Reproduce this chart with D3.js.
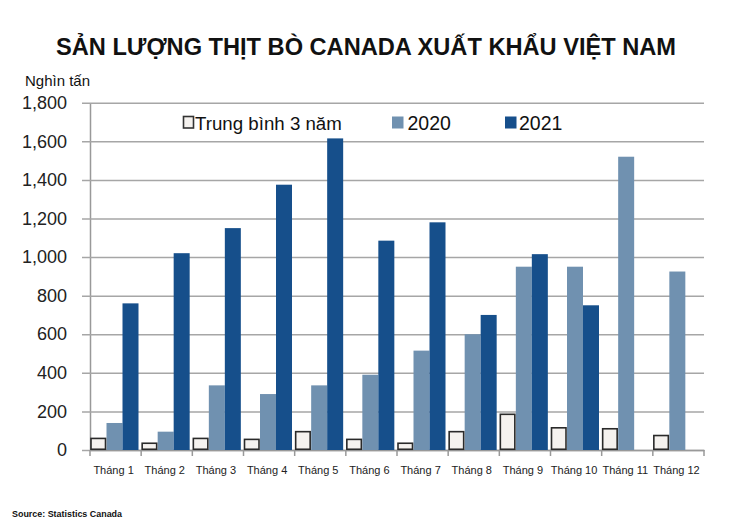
<!DOCTYPE html>
<html>
<head>
<meta charset="utf-8">
<script src="https://cdn.jsdelivr.net/npm/d3@7"></script>
<style>
  html, body { margin: 0; padding: 0; background: #fff; }
  svg { display: block; font-family: "Liberation Sans", Arial, sans-serif; }
</style>
</head>
<body>
<svg id="chart" width="730" height="525"></svg>
<script>
const months = ["Tháng 1","Tháng 2","Tháng 3","Tháng 4","Tháng 5","Tháng 6","Tháng 7","Tháng 8","Tháng 9","Tháng 10","Tháng 11","Tháng 12"];
const avg3 = [60, 35, 60, 55, 95, 55, 35, 95, 185, 115, 110, 75];
const y2020 = [140, 95, 335, 290, 335, 390, 515, 600, 950, 950, 1520, 925];
const y2021 = [760, 1020, 1150, 1375, 1615, 1085, 1180, 700, 1015, 750, null, null];
const yTicks = [0, 200, 400, 600, 800, 1000, 1200, 1400, 1600, 1800];
const seriesNames = ["Trung bình 3 năm", "2020", "2021"];

const svg = d3.select("#chart");
const plotL = 90, plotR = 704, plotT = 102.7, plotB = 450;

const x = d3.scaleBand().domain(months).range([plotL, plotR]).padding(0);
const y = d3.scaleLinear().domain([0, 1800]).range([plotB, plotT]);
const fmt = d3.format(",");

// title
svg.append("text").attr("x", 366).attr("y", 55).attr("text-anchor", "middle")
  .attr("font-size", 24).attr("font-weight", "bold").attr("fill", "#111")
  .attr("textLength", 620).attr("lengthAdjust", "spacingAndGlyphs")
  .text("SẢN LƯỢNG THỊT BÒ CANADA XUẤT KHẨU VIỆT NAM");

svg.append("text").attr("x", 25).attr("y", 86).attr("font-size", 15).attr("fill", "#111")
  .text("Nghìn tấn");

// y axis with gridlines
const yAxis = d3.axisLeft(y).tickValues(yTicks).tickFormat(fmt).tickSize(-(plotR - plotL)).tickSizeOuter(0);
const gy = svg.append("g").attr("transform", `translate(${plotL},0)`).call(yAxis);
gy.select(".domain").attr("stroke", "#999").attr("stroke-width", 1.5);
gy.selectAll(".tick line").attr("stroke", "#a6a6a6").attr("stroke-width", 1.5).attr("x1", -8);
gy.selectAll(".tick text").attr("font-size", 18).attr("fill", "#222")
  .attr("font-family", "'Liberation Sans', Arial, sans-serif").attr("x", -23);

// x axis
const xAxis = d3.axisBottom(x).tickSize(0).tickPadding(16);
const gx = svg.append("g").attr("transform", `translate(0,${plotB})`).call(xAxis);
gx.select(".domain").attr("stroke", "#999").attr("stroke-width", 1.5);
gx.selectAll(".tick text").attr("font-size", 11).attr("fill", "#222")
  .attr("font-family", "'Liberation Sans', Arial, sans-serif").attr("dx", -2);
// category boundary ticks
const bounds = months.map(m => x(m)).concat([plotR]);
svg.append("g").selectAll("line").data(bounds).join("line")
  .attr("x1", d => d).attr("x2", d => d).attr("y1", plotB).attr("y2", plotB + 6)
  .attr("stroke", "#999").attr("stroke-width", 1.5);

// bars
const bw = 16;
const bars = svg.append("g");
bars.selectAll("rect.b2020").data(months).join("rect")
  .attr("x", m => x(m) + 0.5 + bw).attr("width", bw)
  .attr("y", (m, i) => y(y2020[i])).attr("height", (m, i) => plotB - y(y2020[i]))
  .attr("fill", "#7091b0");
bars.append("g").selectAll("rect").data(months.filter((m, i) => y2021[i] != null)).join("rect")
  .attr("x", m => x(m) + 0.5 + 2 * bw).attr("width", bw)
  .attr("y", m => y(y2021[months.indexOf(m)])).attr("height", m => plotB - y(y2021[months.indexOf(m)]))
  .attr("fill", "#164f8b");
bars.append("g").selectAll("rect").data(months).join("rect")
  .attr("x", m => x(m) + 1).attr("width", bw - 1.5)
  .attr("y", (m, i) => y(avg3[i])).attr("height", (m, i) => plotB - y(avg3[i]) - 0.75)
  .attr("fill", "#f5f2ef").attr("stroke", "#2a2a2a").attr("stroke-width", 1.6);

// legend
const lg = svg.append("g");
lg.append("rect").attr("x", 183.5).attr("y", 116.5).attr("width", 10).attr("height", 11.5)
  .attr("fill", "#f5f2ef").attr("stroke", "#333").attr("stroke-width", 1.6);
lg.append("text").attr("x", 195).attr("y", 129.5).attr("font-size", 18.7).attr("fill", "#111").text(seriesNames[0]);
lg.append("rect").attr("x", 392).attr("y", 116.5).attr("width", 11.5).attr("height", 12).attr("fill", "#7091b0");
lg.append("text").attr("x", 407.5).attr("y", 129.5).attr("font-size", 19.5).attr("fill", "#111").text(seriesNames[1]);
lg.append("rect").attr("x", 505).attr("y", 116.5).attr("width", 11.5).attr("height", 12).attr("fill", "#164f8b");
lg.append("text").attr("x", 519).attr("y", 129.5).attr("font-size", 19.5).attr("fill", "#111").text(seriesNames[2]);

// source
svg.append("text").attr("x", 12).attr("y", 517).attr("font-size", 9).attr("font-weight", "bold").attr("fill", "#111")
  .attr("textLength", 110).attr("lengthAdjust", "spacingAndGlyphs")
  .text("Source: Statistics Canada");
</script>
</body>
</html>
